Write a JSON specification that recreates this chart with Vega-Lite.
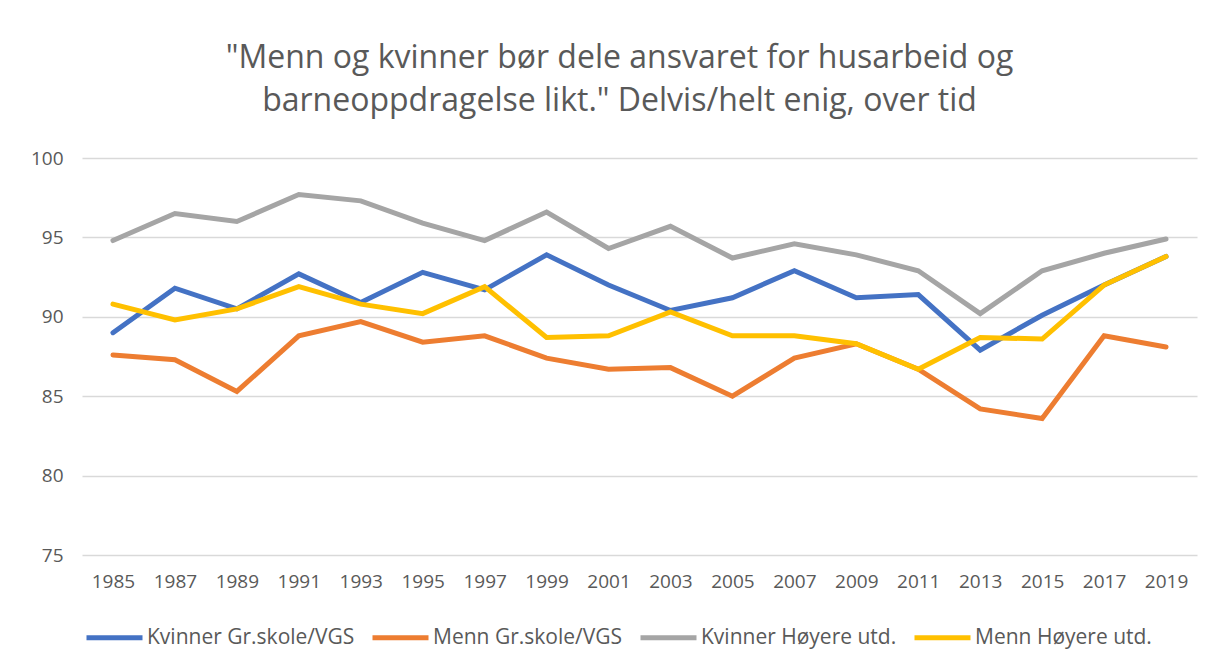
{
  "$schema": "https://vega.github.io/schema/vega-lite/v6.json",
  "width": 1115,
  "height": 397,
  "autosize": {"type": "none"},
  "padding": {"left": 82, "top": 158, "right": 13, "bottom": 113},
  "background": "white",
  "title": {
    "text": ["\"Menn og kvinner bør dele ansvaret for husarbeid og", "barneoppdragelse likt.\" Delvis/helt enig, over tid"],
    "font": "Open Sans",
    "fontSize": 32,
    "fontWeight": "normal",
    "color": "#595959",
    "anchor": "middle",
    "lineHeight": 43,
    "offset": 31,
    "dx": -20
  },
  "data": {
    "values": [
      {"year": 1985, "series": "Kvinner Gr.skole/VGS", "value": 89.0},
      {"year": 1987, "series": "Kvinner Gr.skole/VGS", "value": 91.8},
      {"year": 1989, "series": "Kvinner Gr.skole/VGS", "value": 90.5},
      {"year": 1991, "series": "Kvinner Gr.skole/VGS", "value": 92.7},
      {"year": 1993, "series": "Kvinner Gr.skole/VGS", "value": 90.9},
      {"year": 1995, "series": "Kvinner Gr.skole/VGS", "value": 92.8},
      {"year": 1997, "series": "Kvinner Gr.skole/VGS", "value": 91.7},
      {"year": 1999, "series": "Kvinner Gr.skole/VGS", "value": 93.9},
      {"year": 2001, "series": "Kvinner Gr.skole/VGS", "value": 92.0},
      {"year": 2003, "series": "Kvinner Gr.skole/VGS", "value": 90.4},
      {"year": 2005, "series": "Kvinner Gr.skole/VGS", "value": 91.2},
      {"year": 2007, "series": "Kvinner Gr.skole/VGS", "value": 92.9},
      {"year": 2009, "series": "Kvinner Gr.skole/VGS", "value": 91.2},
      {"year": 2011, "series": "Kvinner Gr.skole/VGS", "value": 91.4},
      {"year": 2013, "series": "Kvinner Gr.skole/VGS", "value": 87.9},
      {"year": 2015, "series": "Kvinner Gr.skole/VGS", "value": 90.1},
      {"year": 2017, "series": "Kvinner Gr.skole/VGS", "value": 92.0},
      {"year": 2019, "series": "Kvinner Gr.skole/VGS", "value": 93.8},
      {"year": 1985, "series": "Menn Gr.skole/VGS", "value": 87.6},
      {"year": 1987, "series": "Menn Gr.skole/VGS", "value": 87.3},
      {"year": 1989, "series": "Menn Gr.skole/VGS", "value": 85.3},
      {"year": 1991, "series": "Menn Gr.skole/VGS", "value": 88.8},
      {"year": 1993, "series": "Menn Gr.skole/VGS", "value": 89.7},
      {"year": 1995, "series": "Menn Gr.skole/VGS", "value": 88.4},
      {"year": 1997, "series": "Menn Gr.skole/VGS", "value": 88.8},
      {"year": 1999, "series": "Menn Gr.skole/VGS", "value": 87.4},
      {"year": 2001, "series": "Menn Gr.skole/VGS", "value": 86.7},
      {"year": 2003, "series": "Menn Gr.skole/VGS", "value": 86.8},
      {"year": 2005, "series": "Menn Gr.skole/VGS", "value": 85.0},
      {"year": 2007, "series": "Menn Gr.skole/VGS", "value": 87.4},
      {"year": 2009, "series": "Menn Gr.skole/VGS", "value": 88.3},
      {"year": 2011, "series": "Menn Gr.skole/VGS", "value": 86.7},
      {"year": 2013, "series": "Menn Gr.skole/VGS", "value": 84.2},
      {"year": 2015, "series": "Menn Gr.skole/VGS", "value": 83.6},
      {"year": 2017, "series": "Menn Gr.skole/VGS", "value": 88.8},
      {"year": 2019, "series": "Menn Gr.skole/VGS", "value": 88.1},
      {"year": 1985, "series": "Kvinner Høyere utd.", "value": 94.8},
      {"year": 1987, "series": "Kvinner Høyere utd.", "value": 96.5},
      {"year": 1989, "series": "Kvinner Høyere utd.", "value": 96.0},
      {"year": 1991, "series": "Kvinner Høyere utd.", "value": 97.7},
      {"year": 1993, "series": "Kvinner Høyere utd.", "value": 97.3},
      {"year": 1995, "series": "Kvinner Høyere utd.", "value": 95.9},
      {"year": 1997, "series": "Kvinner Høyere utd.", "value": 94.8},
      {"year": 1999, "series": "Kvinner Høyere utd.", "value": 96.6},
      {"year": 2001, "series": "Kvinner Høyere utd.", "value": 94.3},
      {"year": 2003, "series": "Kvinner Høyere utd.", "value": 95.7},
      {"year": 2005, "series": "Kvinner Høyere utd.", "value": 93.7},
      {"year": 2007, "series": "Kvinner Høyere utd.", "value": 94.6},
      {"year": 2009, "series": "Kvinner Høyere utd.", "value": 93.9},
      {"year": 2011, "series": "Kvinner Høyere utd.", "value": 92.9},
      {"year": 2013, "series": "Kvinner Høyere utd.", "value": 90.2},
      {"year": 2015, "series": "Kvinner Høyere utd.", "value": 92.9},
      {"year": 2017, "series": "Kvinner Høyere utd.", "value": 94.0},
      {"year": 2019, "series": "Kvinner Høyere utd.", "value": 94.9},
      {"year": 1985, "series": "Menn Høyere utd.", "value": 90.8},
      {"year": 1987, "series": "Menn Høyere utd.", "value": 89.8},
      {"year": 1989, "series": "Menn Høyere utd.", "value": 90.5},
      {"year": 1991, "series": "Menn Høyere utd.", "value": 91.9},
      {"year": 1993, "series": "Menn Høyere utd.", "value": 90.8},
      {"year": 1995, "series": "Menn Høyere utd.", "value": 90.2},
      {"year": 1997, "series": "Menn Høyere utd.", "value": 91.9},
      {"year": 1999, "series": "Menn Høyere utd.", "value": 88.7},
      {"year": 2001, "series": "Menn Høyere utd.", "value": 88.8},
      {"year": 2003, "series": "Menn Høyere utd.", "value": 90.3},
      {"year": 2005, "series": "Menn Høyere utd.", "value": 88.8},
      {"year": 2007, "series": "Menn Høyere utd.", "value": 88.8},
      {"year": 2009, "series": "Menn Høyere utd.", "value": 88.3},
      {"year": 2011, "series": "Menn Høyere utd.", "value": 86.7},
      {"year": 2013, "series": "Menn Høyere utd.", "value": 88.7},
      {"year": 2015, "series": "Menn Høyere utd.", "value": 88.6},
      {"year": 2017, "series": "Menn Høyere utd.", "value": 92.0},
      {"year": 2019, "series": "Menn Høyere utd.", "value": 93.8}
    ]
  },
  "mark": {"type": "line", "strokeWidth": 5, "strokeCap": "round"},
  "encoding": {
    "x": {
      "field": "year",
      "type": "ordinal",
      "scale": {"padding": 0.5},
      "axis": {
        "title": null,
        "labelAngle": 0,
        "ticks": false,
        "domain": false,
        "grid": false,
        "labelPadding": 17,
        "labelFont": "Open Sans",
        "labelFontSize": 19,
        "labelColor": "#595959"
      }
    },
    "y": {
      "field": "value",
      "type": "quantitative",
      "scale": {"domain": [75, 100], "nice": false, "zero": false},
      "axis": {
        "title": null,
        "values": [75, 80, 85, 90, 95, 100],
        "ticks": false,
        "domain": false,
        "grid": true,
        "gridColor": "#d9d9d9",
        "gridWidth": 1.3,
        "labelPadding": 19,
        "labelFont": "Open Sans",
        "labelFontSize": 19,
        "labelColor": "#595959"
      }
    },
    "color": {
      "field": "series",
      "type": "nominal",
      "scale": {
        "domain": ["Kvinner Gr.skole/VGS", "Menn Gr.skole/VGS", "Kvinner Høyere utd.", "Menn Høyere utd."],
        "range": ["#4472C4", "#ED7D31", "#A5A5A5", "#FFC000"]
      },
      "legend": {
        "title": null,
        "orient": "none",
        "legendX": 2,
        "legendY": 449,
        "direction": "horizontal",
        "columns": 4,
        "columnPadding": 7,
        "symbolType": "stroke",
        "symbolSize": 3136,
        "symbolStrokeWidth": 5,
        "labelFont": "Open Sans",
        "labelFontSize": 21,
        "labelColor": "#595959",
        "labelOffset": 2,
        "labelLimit": 400
      }
    }
  },
  "config": {"view": {"stroke": null}}
}
